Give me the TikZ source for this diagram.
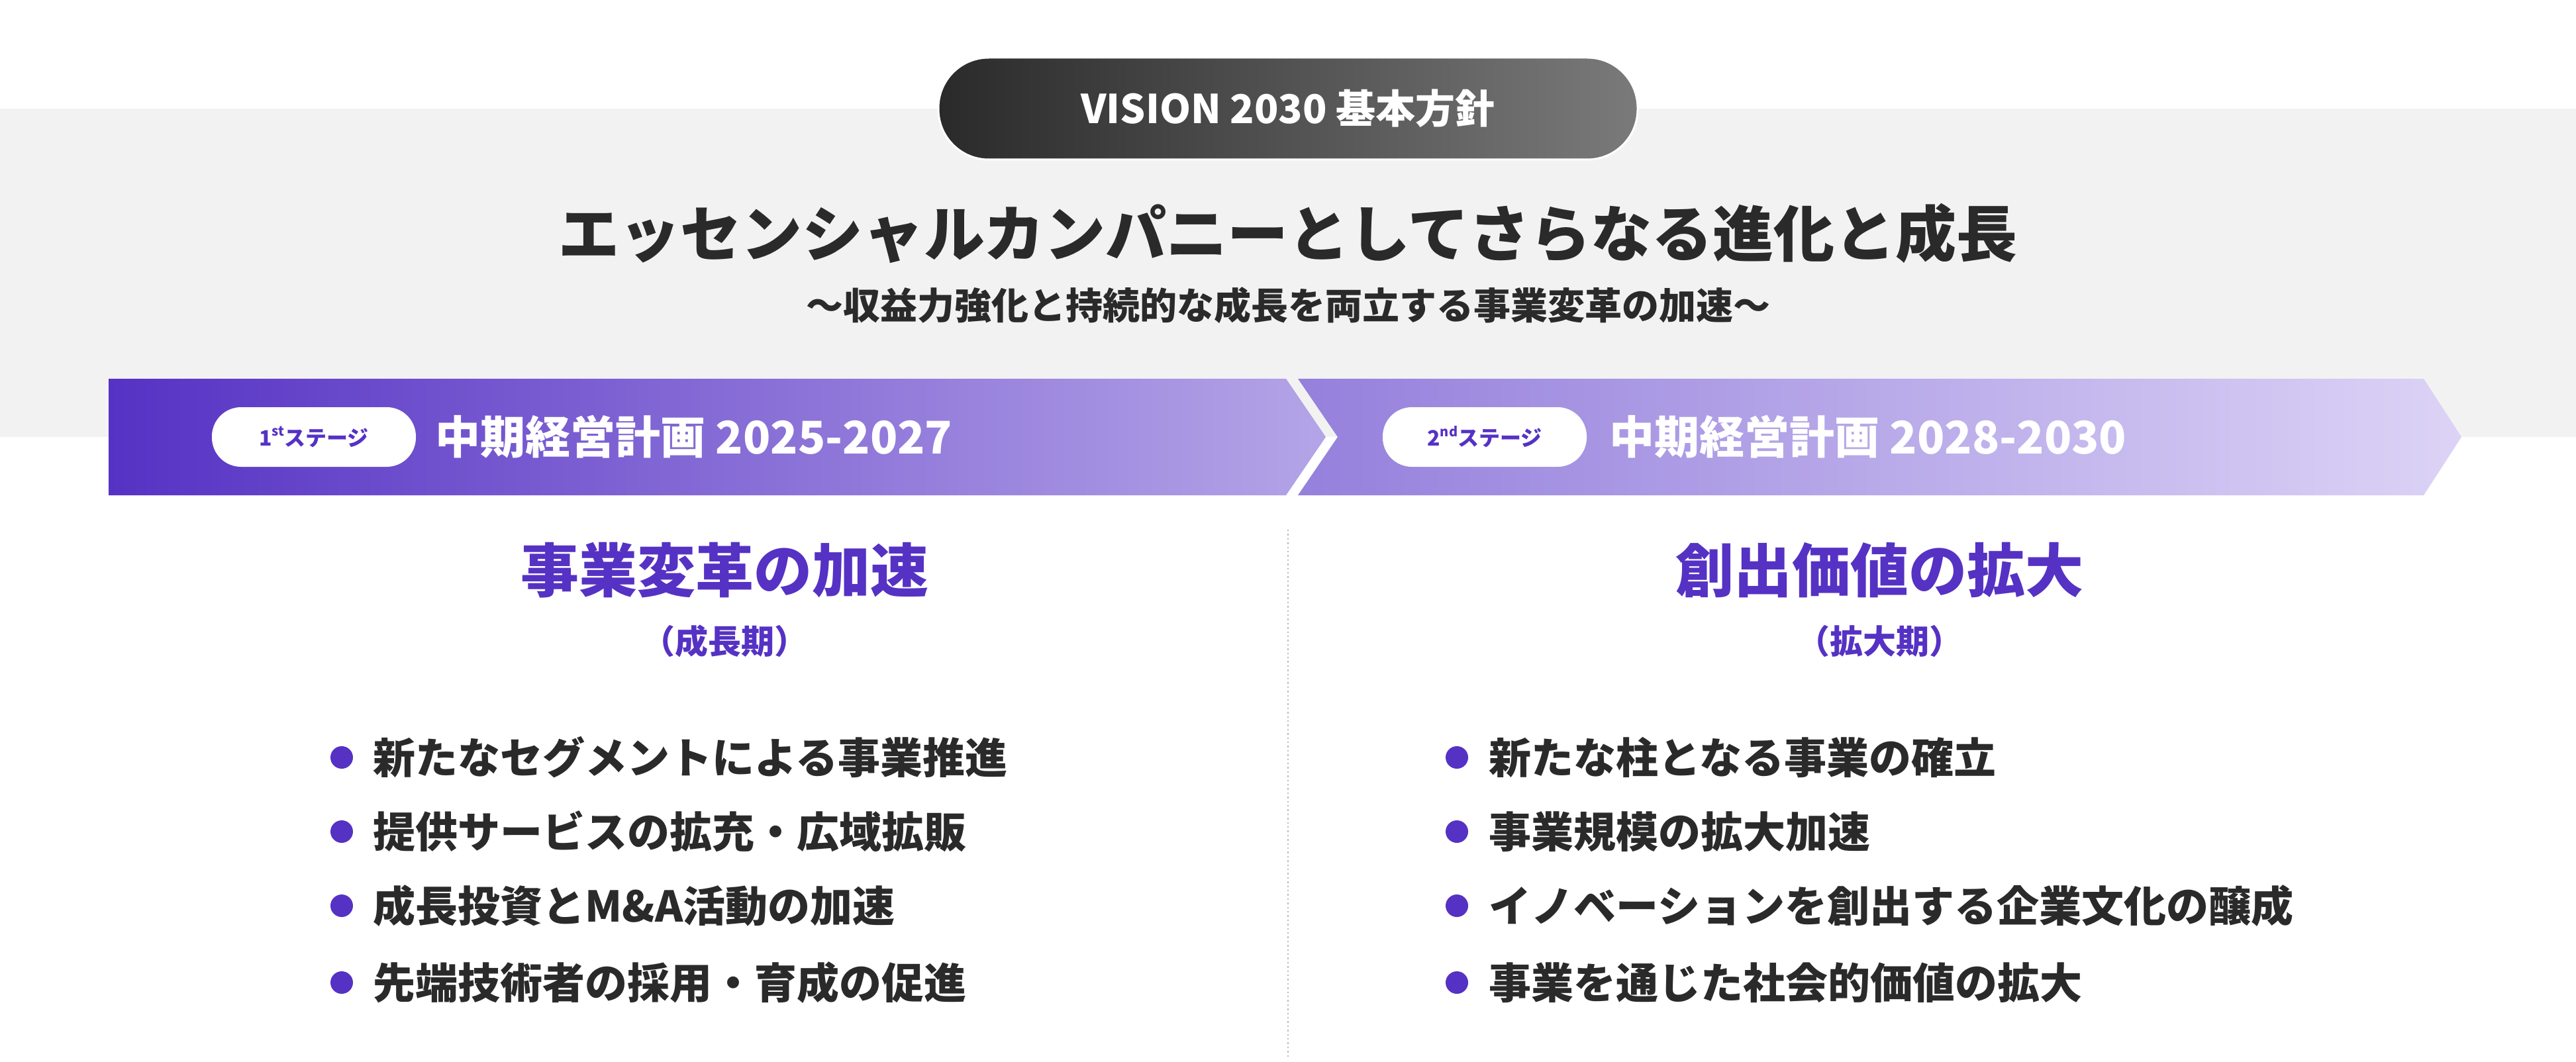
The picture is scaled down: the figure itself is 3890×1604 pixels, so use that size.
\documentclass[tikz,border=0pt]{standalone}
\usepackage{fontspec}
\setmainfont{Noto Sans CJK JP}
\definecolor{ink}{HTML}{2A2A2A}
\definecolor{inkl}{HTML}{7A7A7A}
\definecolor{vio}{HTML}{5532C4}
\definecolor{band}{HTML}{F2F2F2}
\definecolor{ba}{HTML}{5632C4}
\definecolor{bb}{HTML}{B4A4E7}
\definecolor{bc}{HTML}{9580DC}
\definecolor{bd}{HTML}{DCD3F6}
\definecolor{sep}{HTML}{BBBBBB}
\newcommand{\supx}[1]{\raisebox{0.45em}{\fontsize{10}{10}\selectfont #1}}
\begin{document}
\begin{tikzpicture}[x=0.5pt,y=-0.5pt,
  txt/.style={inner sep=0pt,text=ink,font=\bfseries},
  bul/.style={txt,anchor=west,font=\bfseries\fontsize{32}{36}\selectfont},
  dot/.style={circle,fill=vio,minimum size=17pt,inner sep=0pt},
  head/.style={inner sep=0pt,text=vio,font=\bfseries\fontsize{44}{48}\selectfont},
  sub/.style={inner sep=0pt,text=vio,font=\bfseries\fontsize{25}{30}\selectfont},
  stage/.style={fill=white,rounded corners=22pt,minimum width=154pt,minimum height=45pt,inner sep=0pt,text=vio,font=\bfseries\fontsize{16}{18}\selectfont},
  btxt/.style={anchor=west,inner sep=0pt,text=white,font=\bfseries\fontsize{34}{38}\selectfont}]
\useasboundingbox (0,0) rectangle (3890,1604);
\fill[white] (0,0) rectangle (3890,1604);
\fill[band] (0,164) rectangle (3890,660);
% pill
\node[rounded corners=38pt,minimum width=528pt,minimum height=77pt,inner sep=0pt,
  draw=white,line width=1.5pt,left color=ink,right color=inkl,
  text=white,font=\bfseries\fontsize{30}{34}\selectfont] (pill) at (1945,164) {VISION 2030 基本方針};
\node[txt,font=\bfseries\fontsize{46}{50}\selectfont] (title) at (1945,352) {エッセンシャルカンパニーとしてさらなる進化と成長};
\node[txt,font=\bfseries\fontsize{28}{32}\selectfont] (subt) at (1945,461) {〜収益力強化と持続的な成長を両立する事業変革の加速〜};
% banners
\shade[left color=ba,right color=bb] (164,572) -- (1942,572) -- (2002,660) -- (1942,748) -- (164,748) -- cycle;
\shade[left color=bc,right color=bd] (1960,572) -- (3660,572) -- (3717,660) -- (3660,748) -- (1960,748) -- (2020,660) -- cycle;
\node[stage] (s1) at (474,660) {1\supx{st}ステージ};
\node[stage] (s2) at (2242,660) {2\supx{nd}ステージ};
\node[btxt] (b1) at (657,660) {中期経営計画 2025-2027};
\node[btxt] (b2) at (2430,660) {中期経営計画 2028-2030};
% separator
\draw[sep,line width=1.2pt,dotted] (1945,800) coordinate (ta) -- (1945,1600) coordinate (tb);
% headings
\node[head] (h1) at (1094,861) {事業変革の加速};
\node[sub] (p1) at (1094,968) {（成長期）};
\node[head] (h2) at (2838,861) {創出価値の拡大};
\node[sub] (p2) at (2838,968) {（拡大期）};
% bullets left
\node[dot] (d1) at (516,1144) {}; \node[bul] (l1) at (563,1144) {新たなセグメントによる事業推進};
\node[dot] (d2) at (516,1256) {}; \node[bul] (l2) at (563,1256) {提供サービスの拡充・広域拡販};
\node[dot] (d3) at (516,1368) {}; \node[bul] (l3) at (563,1368) {成長投資とM\&A活動の加速};
\node[dot] (d4) at (516,1484) {}; \node[bul] (l4) at (563,1484) {先端技術者の採用・育成の促進};
% bullets right
\node[dot] (e1) at (2200,1144) {}; \node[bul] (r1) at (2248,1144) {新たな柱となる事業の確立};
\node[dot] (e2) at (2200,1256) {}; \node[bul] (r2) at (2248,1256) {事業規模の拡大加速};
\node[dot] (e3) at (2200,1368) {}; \node[bul] (r3) at (2248,1368) {イノベーションを創出する企業文化の醸成};
\node[dot] (e4) at (2200,1484) {}; \node[bul] (r4) at (2248,1484) {事業を通じた社会的価値の拡大};
\end{tikzpicture}
\end{document}
